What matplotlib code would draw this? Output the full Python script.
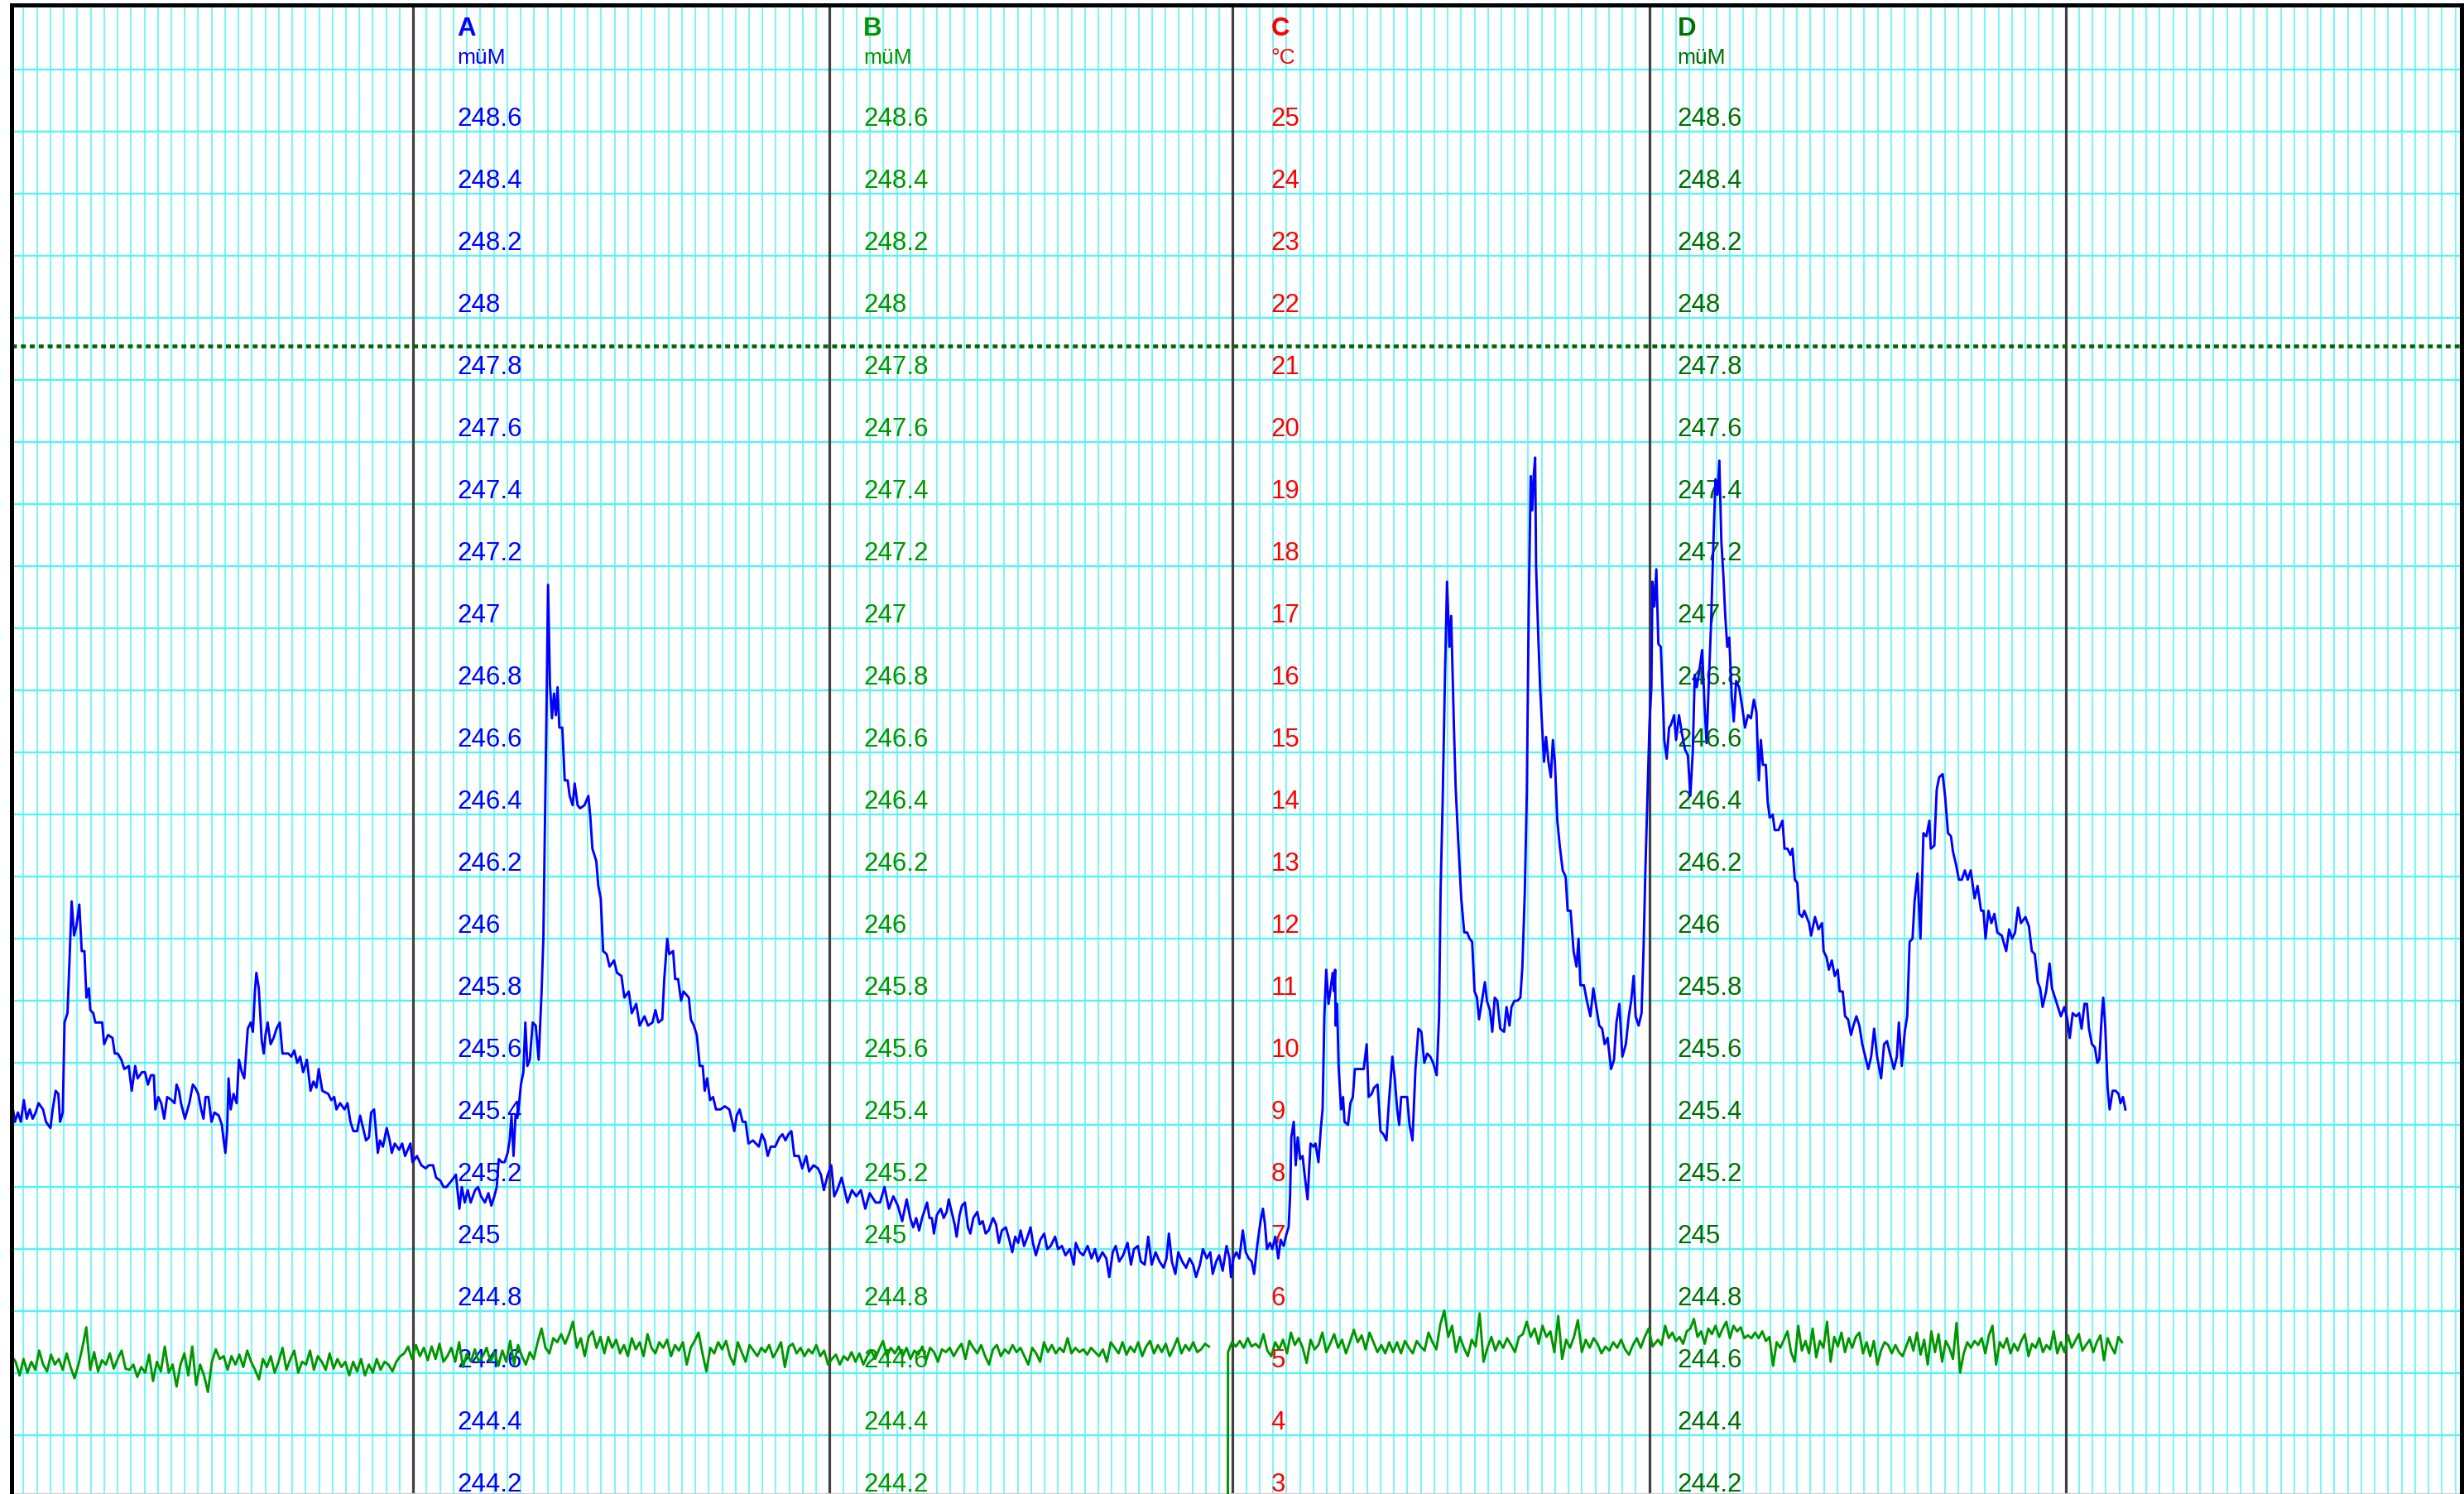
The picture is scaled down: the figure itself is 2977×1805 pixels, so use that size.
import numpy as np
import matplotlib
matplotlib.use("Agg")
import matplotlib.pyplot as plt
import matplotlib.transforms as mtransforms

plt.rcParams['font.family'] = ['Liberation Sans', 'DejaVu Sans']

# time axis in days, month boundaries
month_days = [30, 61, 91, 122, 153]
x_range = (0.11, 182.46)
y_range = (244.211, 249.008)

# scale labels (A, B, D share the level scale, C is temperature)
level_ticks = [248.6, 248.4, 248.2, 248.0, 247.8, 247.6, 247.4, 247.2, 247.0, 246.8, 246.6, 246.4,
               246.2, 246.0, 245.8, 245.6, 245.4, 245.2, 245.0, 244.8, 244.6, 244.4, 244.2]
temp_ticks = [25, 24, 23, 22, 21, 20, 19, 18, 17, 16, 15, 14, 13, 12, 11, 10, 9, 8, 7, 6, 5, 4, 3]
scale_names = ['A', 'B', 'C', 'D']
scale_units = ['müM', 'müM', '°C', 'müM']
scale_colors = ['#0000ff', '#009600', '#ff0000', '#006e00']
threshold = 247.91

# series A (blue), level in m
blue_day = [0.14, 0.36, 0.58, 0.80, 1.02, 1.24, 1.46, 1.68, 1.90, 2.12, 2.45, 2.67, 3.00, 3.17, 3.39, 3.59, 3.72, 3.92,
            4.05, 4.27, 4.43, 4.58, 4.76, 4.93, 5.15, 5.33, 5.53, 5.68, 5.86, 5.97, 6.19, 6.34, 6.63, 6.85, 7.00, 7.29,
            7.62, 7.79, 8.01, 8.28, 8.50, 8.83, 9.05, 9.31, 9.49, 9.82, 10.04, 10.26, 10.48, 10.70, 10.81, 11.03, 11.25,
            11.47, 11.69, 12.02, 12.24, 12.39, 12.57, 12.72, 13.01, 13.34, 13.60, 13.78, 14.00, 14.22, 14.39, 14.55,
            14.76, 14.99, 15.21, 15.53, 15.76, 15.87, 16.02, 16.15, 16.26, 16.42, 16.63, 16.86, 17.03, 17.25, 17.43,
            17.69, 17.91, 18.07, 18.22, 18.33, 18.51, 18.73, 18.88, 19.01, 19.17, 19.39, 19.61, 19.83, 20.07, 20.27,
            20.49, 20.71, 20.93, 21.15, 21.37, 21.59, 21.81, 22.09, 22.36, 22.58, 22.80, 22.97, 23.24, 23.68, 23.90,
            24.12, 24.29, 24.56, 24.89, 25.11, 25.33, 25.55, 25.83, 26.05, 26.27, 26.49, 26.71, 26.87, 27.09, 27.37,
            27.53, 27.75, 28.03, 28.25, 28.41, 28.63, 28.96, 29.18, 29.40, 29.79, 29.95, 30.28, 30.61, 30.94, 31.16,
            31.48, 31.71, 32.03, 32.26, 32.48,
            32.85, 33.18, 33.44, 33.62, 33.84, 34.06, 34.28, 34.61, 34.83, 35.05, 35.34, 35.60, 35.82, 36.04, 36.22,
            36.37, 36.59, 36.81, 37.03, 37.18, 37.32, 37.47, 37.62, 37.80, 38.02, 38.20, 38.35, 38.50, 38.68, 38.90,
            39.12, 39.34, 39.56, 39.69, 39.82, 39.91, 40.04, 40.18, 40.33, 40.48, 40.62, 40.75, 40.88, 41.10, 41.28,
            41.50, 41.65, 41.87, 42.02, 42.24, 42.42, 42.75, 43.04, 43.19, 43.34, 43.63, 43.78, 43.96, 44.14, 44.40,
            44.62, 44.95, 45.17, 45.50, 45.72, 46.05, 46.27, 46.60, 46.86, 47.22, 47.48, 47.81, 48.03, 48.25, 48.54,
            48.69, 48.91, 49.06, 49.35, 49.50, 49.72, 49.94, 50.12, 50.52, 50.67, 50.89, 51.11, 51.33, 51.55, 51.70,
            51.88, 52.10, 52.32, 52.54, 52.87, 53.20, 53.53, 53.75, 53.90, 54.08, 54.30, 54.52, 54.74, 54.96, 55.29,
            55.51, 55.73, 55.95, 56.17, 56.39, 56.61, 56.94, 57.27, 57.49, 57.71, 57.93, 58.15, 58.37, 58.70, 58.96,
            59.25, 59.47, 59.80, 60.13, 60.35, 60.57, 60.86, 61.12, 61.34, 61.56, 61.89, 62.11, 62.33, 62.66, 62.99,
            63.32, 63.65, 63.98, 64.42, 64.75, 65.08, 65.41, 65.74, 66.07, 66.40, 66.73,
            67.00, 67.22, 67.44, 67.66, 67.88, 68.10, 68.25, 68.43, 68.61, 68.76, 68.98, 69.27, 69.49, 69.71, 69.86,
            70.08, 70.30, 70.45, 70.67, 70.85, 71.07, 71.29, 71.47, 71.69, 71.99, 72.17, 72.39, 72.61, 72.83, 73.16,
            73.38, 73.60, 73.82, 74.11, 74.37, 74.59, 74.81, 75.03, 75.21, 75.47, 75.73, 75.95, 76.13, 76.35, 76.68,
            76.97, 77.19, 77.45, 77.78, 78.00, 78.29, 78.55, 78.88, 79.17, 79.32, 79.61, 79.87, 80.20, 80.49, 80.75,
            80.97, 81.30, 81.59, 81.81, 82.07, 82.29, 82.55, 82.84, 83.17, 83.43, 83.65, 83.94, 84.16, 84.45, 84.71,
            84.97, 85.26, 85.55, 85.85, 86.07, 86.25, 86.47, 86.73, 86.95, 87.24, 87.53, 87.79, 88.05, 88.27, 88.56,
            88.78, 89.07, 89.33, 89.51, 89.77, 89.99, 90.25, 90.54, 90.76, 90.87, 91.05, 91.27, 91.49, 91.75, 91.97,
            92.19, 92.41, 92.59, 92.85, 93.07, 93.25, 93.40, 93.55, 93.77, 93.95, 94.17, 94.39, 94.57, 94.79, 95.01,
            95.16, 95.27,
            95.36, 95.54, 95.69, 95.84, 96.02, 96.20, 96.35, 96.57, 96.79, 97.01, 97.16, 97.38, 97.56, 97.69, 97.82,
            97.96, 98.13, 98.29, 98.44, 98.55, 98.62, 98.66, 98.77, 98.88, 99.06, 99.21, 99.32, 99.58, 99.76, 99.94,
            100.09, 100.31, 100.53, 100.75, 100.97, 101.12, 101.34, 101.52, 101.78, 102.00, 102.22, 102.44, 102.62,
            102.88, 103.06, 103.24, 103.39, 103.54, 103.76, 103.98, 104.16, 104.38, 104.60, 104.82, 105.04, 105.26,
            105.48, 105.70, 105.92, 106.18, 106.36, 106.47, 106.62, 106.80, 106.95, 107.13, 107.26, 107.46, 107.59,
            107.79, 108.01, 108.23, 108.45, 108.63, 108.82, 109.00, 109.18, 109.33, 109.55, 109.77, 109.92, 110.14,
            110.32, 110.50, 110.69, 110.91, 111.20, 111.38, 111.60, 111.75, 111.97, 112.19, 112.41, 112.56, 112.74,
            112.89, 113.03, 113.18, 113.29, 113.40, 113.51, 113.58, 113.73, 113.88, 114.02, 114.17, 114.32, 114.50,
            114.68, 114.83, 114.98, 115.16, 115.34, 115.56, 115.78, 115.93, 116.15, 116.37, 116.59, 116.74, 116.88,
            117.14, 117.36, 117.62, 117.84, 118.06, 118.28, 118.50, 118.68, 118.90, 119.16, 119.38, 119.56, 119.78,
            120.00, 120.26, 120.48, 120.66, 120.84, 120.99, 121.21, 121.43, 121.58, 121.72, 121.87, 122.02, 122.16,
            122.24, 122.38, 122.53, 122.68, 122.86, 123.04, 123.12, 123.30, 123.48, 123.63, 123.85, 124.00, 124.22,
            124.44, 124.66, 124.88, 125.06, 125.24, 125.39, 125.54, 125.72, 125.94, 126.12, 126.27, 126.42, 126.60,
            126.78, 126.93, 127.08, 127.22, 127.37, 127.52, 127.66, 127.81, 127.96, 128.14, 128.29, 128.47, 128.69,
            128.91, 129.13, 129.35, 129.57, 129.79,
            129.98, 130.16, 130.31, 130.46, 130.68, 130.82, 130.97, 131.19, 131.34, 131.63, 131.92, 132.07, 132.29,
            132.51, 132.66, 132.84, 133.02, 133.17, 133.39, 133.54, 133.72, 133.90, 134.05, 134.34, 134.60, 134.86,
            134.98, 135.20, 135.37, 135.59, 135.81, 136.03, 136.18, 136.40, 136.58, 136.80, 137.02, 137.20, 137.42,
            137.64, 137.86, 138.08, 138.30, 138.52, 138.74, 138.96, 139.26, 139.48, 139.70, 139.92, 140.21, 140.43,
            140.58, 140.80, 141.02, 141.20, 141.38, 141.60, 141.75, 141.97, 142.19, 142.41, 142.63, 142.85, 142.96,
            143.22, 143.40, 143.58, 143.84, 144.02, 144.24, 144.46, 144.61, 144.83, 145.05, 145.27, 145.49, 145.71,
            145.93, 146.22, 146.44, 146.70, 146.88, 147.03, 147.25, 147.47, 147.69, 147.91, 148.24, 148.57, 148.79,
            149.01, 149.23, 149.45, 149.67, 150.00, 150.26, 150.48, 150.70, 150.92, 151.10, 151.28, 151.54, 151.80,
            151.98, 152.20, 152.42, 152.64, 152.90, 153.08, 153.30, 153.52, 153.78, 154.00, 154.18, 154.40, 154.58,
            154.73, 154.95, 155.17, 155.35, 155.50, 155.68, 155.79, 155.94, 156.12, 156.27, 156.49, 156.71, 156.93,
            157.08, 157.26, 157.44]
blue_val = [245.47, 245.41, 245.44, 245.41, 245.48, 245.42, 245.45, 245.42, 245.44, 245.47, 245.45, 245.41, 245.39,
            245.45, 245.51, 245.50, 245.41, 245.44, 245.73, 245.76, 245.94, 246.12, 246.01, 246.04, 246.11, 245.96,
            245.96, 245.81, 245.84, 245.77, 245.76, 245.73, 245.73, 245.73, 245.66, 245.69, 245.68, 245.63, 245.63,
            245.61, 245.58, 245.59, 245.51, 245.59, 245.55, 245.57, 245.57, 245.53, 245.56, 245.56, 245.45, 245.49,
            245.47, 245.42, 245.49, 245.48, 245.47, 245.53, 245.51, 245.47, 245.42, 245.47, 245.53, 245.52, 245.50,
            245.45, 245.42, 245.49, 245.49, 245.41, 245.44, 245.43, 245.40, 245.36, 245.31, 245.38, 245.55, 245.45,
            245.50, 245.47, 245.61, 245.57, 245.55, 245.71, 245.73, 245.70, 245.83, 245.89, 245.84, 245.67, 245.63,
            245.69, 245.73, 245.66, 245.68, 245.71, 245.73, 245.63, 245.63, 245.63, 245.62, 245.64, 245.60, 245.62,
            245.57, 245.61, 245.51, 245.54, 245.52, 245.58, 245.51, 245.50, 245.48, 245.49, 245.45, 245.47, 245.45,
            245.47, 245.41, 245.38, 245.38, 245.43, 245.39, 245.35, 245.36, 245.44, 245.45, 245.31, 245.35, 245.33,
            245.39, 245.35, 245.31, 245.34, 245.32, 245.34, 245.30, 245.34, 245.28, 245.30, 245.27, 245.26, 245.27,
            245.27, 245.23, 245.22, 245.20, 245.20,
            245.22, 245.24, 245.13, 245.20, 245.15, 245.19, 245.15, 245.19, 245.20, 245.17, 245.15, 245.18, 245.14,
            245.17, 245.20, 245.29, 245.28, 245.28, 245.31, 245.35, 245.43, 245.30, 245.43, 245.43, 245.53, 245.57,
            245.73, 245.59, 245.61, 245.73, 245.72, 245.61, 245.83, 246.00, 246.40, 246.69, 247.14, 246.82, 246.71,
            246.79, 246.72, 246.81, 246.68, 246.68, 246.51, 246.51, 246.46, 246.43, 246.50, 246.43, 246.42, 246.43,
            246.46, 246.39, 246.29, 246.25, 246.17, 246.13, 245.96, 245.95, 245.91, 245.93, 245.89, 245.88, 245.81,
            245.83, 245.76, 245.79, 245.72, 245.75, 245.72, 245.73, 245.77, 245.73, 245.74, 245.87, 246.00, 245.95,
            245.96, 245.87, 245.87, 245.80, 245.83, 245.81, 245.74, 245.72, 245.69, 245.59, 245.59, 245.51, 245.55,
            245.48, 245.49, 245.45, 245.45, 245.46, 245.45, 245.41, 245.38, 245.43, 245.45, 245.41, 245.41, 245.34,
            245.35, 245.34, 245.33, 245.37, 245.35, 245.30, 245.33, 245.33, 245.36, 245.37, 245.35, 245.37, 245.38,
            245.30, 245.30, 245.26, 245.30, 245.25, 245.27, 245.26, 245.24, 245.19, 245.24, 245.27, 245.17, 245.19,
            245.23, 245.19, 245.15, 245.19, 245.17, 245.19, 245.13, 245.18, 245.15, 245.15, 245.20, 245.13, 245.17,
            245.14, 245.09, 245.16,
            245.10, 245.07, 245.10, 245.06, 245.10, 245.13, 245.15, 245.10, 245.10, 245.05, 245.11, 245.13, 245.10,
            245.12, 245.16, 245.12, 245.08, 245.04, 245.11, 245.14, 245.15, 245.07, 245.05, 245.10, 245.12, 245.08,
            245.09, 245.05, 245.06, 245.10, 245.08, 245.02, 245.06, 245.07, 245.03, 244.99, 245.04, 245.02, 245.06,
            245.01, 245.04, 245.07, 245.02, 244.98, 245.03, 245.05, 245.00, 245.01, 245.04, 245.00, 245.01, 244.98,
            245.00, 244.95, 245.02, 244.99, 244.98, 245.01, 244.97, 245.00, 244.96, 244.99, 244.97, 244.91, 244.99,
            245.01, 244.96, 244.98, 245.02, 244.95, 245.00, 245.01, 244.96, 244.95, 245.04, 244.95, 244.99, 244.96,
            244.94, 244.97, 245.05, 244.96, 244.92, 244.99, 244.96, 244.94, 244.97, 244.95, 244.91, 244.95, 245.00,
            244.97, 244.99, 244.92, 244.96, 244.98, 244.93, 245.01, 244.97, 244.91, 244.97, 244.99, 244.97, 245.06,
            244.99, 244.97, 244.96, 244.92, 245.02, 245.09, 245.13, 245.08, 245.00, 245.02, 245.00, 245.04, 244.97,
            245.03, 245.01, 245.05, 245.07, 245.17,
            245.36, 245.41, 245.27, 245.36, 245.29, 245.30, 245.24, 245.16, 245.34, 245.33, 245.34, 245.28, 245.39,
            245.45, 245.75, 245.90, 245.79, 245.84, 245.89, 245.83, 245.90, 245.72, 245.79, 245.59, 245.45, 245.49,
            245.41, 245.40, 245.47, 245.49, 245.58, 245.58, 245.58, 245.58, 245.66, 245.49, 245.50, 245.52, 245.53,
            245.38, 245.37, 245.35, 245.47, 245.62, 245.55, 245.45, 245.40, 245.49, 245.49, 245.49, 245.40, 245.35,
            245.58, 245.71, 245.70, 245.60, 245.63, 245.62, 245.60, 245.56, 245.75, 246.15, 246.43, 246.85, 247.15,
            246.94, 247.04, 246.69, 246.49, 246.31, 246.13, 246.02, 246.02, 246.00, 245.99, 245.83, 245.81, 245.74,
            245.80, 245.86, 245.80, 245.77, 245.70, 245.81, 245.80, 245.71, 245.70, 245.78, 245.72, 245.78, 245.80,
            245.80, 245.81, 245.91, 246.15, 246.47, 247.06, 247.49, 247.38, 247.49, 247.55, 247.20, 246.99, 246.81,
            246.69, 246.57, 246.65, 246.57, 246.52, 246.64, 246.57, 246.38, 246.30, 246.22, 246.20, 246.09, 246.09,
            245.96, 245.91, 246.00, 245.85, 245.85, 245.80, 245.75, 245.84, 245.78, 245.72, 245.71, 245.66, 245.68,
            245.58, 245.61, 245.73, 245.79, 245.62, 245.66, 245.75, 245.80, 245.88, 245.75, 245.72, 245.76, 245.97,
            246.23, 246.46, 246.69, 246.81, 247.15, 247.07, 247.19, 246.95, 246.94, 246.75, 246.64, 246.58, 246.68,
            246.69, 246.72, 246.64, 246.72, 246.66, 246.61, 246.59, 246.46, 246.60, 246.85, 246.81, 246.86, 246.93,
            246.75, 246.63, 246.81, 247.01, 247.28, 247.48, 247.43, 247.54, 247.28, 247.17, 247.04, 246.94, 246.97,
            246.78, 246.70, 246.83, 246.81, 246.75, 246.68, 246.72, 246.71, 246.77,
            246.73, 246.51, 246.64, 246.56, 246.56, 246.44, 246.39, 246.40, 246.35, 246.35, 246.38, 246.29, 246.29,
            246.27, 246.29, 246.19, 246.18, 246.08, 246.07, 246.09, 246.07, 246.05, 246.01, 246.07, 246.03, 246.05,
            245.96, 245.94, 245.90, 245.93, 245.88, 245.90, 245.83, 245.83, 245.75, 245.74, 245.69, 245.72, 245.75,
            245.72, 245.66, 245.62, 245.58, 245.62, 245.71, 245.62, 245.55, 245.66, 245.67, 245.63, 245.58, 245.62,
            245.73, 245.59, 245.70, 245.75, 245.99, 246.00, 246.12, 246.21, 246.00, 246.34, 246.33, 246.38, 246.29,
            246.30, 246.48, 246.52, 246.53, 246.46, 246.34, 246.33, 246.28, 246.24, 246.19, 246.19, 246.22, 246.19,
            246.22, 246.13, 246.17, 246.09, 246.09, 246.00, 246.09, 246.05, 246.08, 246.02, 246.01, 245.96, 246.03,
            246.00, 246.02, 246.10, 246.05, 246.07, 246.04, 245.96, 245.95, 245.86, 245.84, 245.78, 245.83, 245.92,
            245.84, 245.81, 245.78, 245.75, 245.78, 245.75, 245.68, 245.76, 245.75, 245.76, 245.71, 245.79, 245.79,
            245.71, 245.66, 245.65, 245.60, 245.61, 245.75, 245.81, 245.72, 245.52, 245.45, 245.51, 245.51, 245.50,
            245.47, 245.49, 245.45]

# series B (green), level in m, read in four stretches with a data gap and a dropout
green_a_span = (0.12, 60.88)
green_a = [244.655, 244.637, 244.593, 244.646, 244.602, 244.637, 244.611, 244.673, 244.628, 244.606, 244.660, 244.628,
           244.646, 244.611, 244.664, 244.620, 244.584, 244.628, 244.682, 244.748, 244.611, 244.668, 244.606, 244.642,
           244.628, 244.664, 244.615, 244.646, 244.673, 244.615, 244.611, 244.628, 244.588, 244.620, 244.602, 244.660,
           244.575, 244.637, 244.606, 244.686, 244.602, 244.628, 244.557, 244.628, 244.664, 244.593, 244.686, 244.562,
           244.628, 244.593, 244.540, 244.637, 244.677, 244.646, 244.655, 244.611, 244.655, 244.628, 244.660, 244.620,
           244.673, 244.637, 244.611, 244.580, 244.646, 244.620, 244.655, 244.602, 244.637, 244.682, 244.611, 244.646,
           244.673, 244.602, 244.637, 244.628, 244.673, 244.611, 244.655, 244.637, 244.611, 244.664, 244.615, 244.646,
           244.620, 244.637, 244.593, 244.637, 244.606, 244.646, 244.593, 244.628, 244.602, 244.646, 244.611, 244.637,
           244.628, 244.606, 244.637, 244.655, 244.664, 244.686, 244.646, 244.691, 244.655, 244.682, 244.642, 244.686,
           244.646, 244.695, 244.637, 244.655, 244.682, 244.637, 244.700, 244.620, 244.664, 244.637, 244.677, 244.637,
           244.655, 244.682, 244.637, 244.668, 244.624, 244.673, 244.637, 244.704, 244.628, 244.691, 244.655, 244.628,
           244.668, 244.646, 244.700, 244.744, 244.682, 244.664, 244.713, 244.700, 244.726, 244.695, 244.726, 244.766,
           244.682, 244.713, 244.655, 244.717, 244.735, 244.682, 244.717, 244.664, 244.717, 244.682, 244.708, 244.664,
           244.691, 244.655, 244.713, 244.677, 244.700, 244.655, 244.726, 244.682, 244.664, 244.700, 244.682, 244.708,
           244.655, 244.691, 244.673, 244.700, 244.628, 244.682, 244.704, 244.731, 244.664, 244.606, 244.682, 244.664,
           244.700, 244.677, 244.704, 244.655, 244.628, 244.700, 244.668, 244.637, 244.691, 244.673, 244.655, 244.682,
           244.668, 244.691, 244.651, 244.673, 244.700, 244.620, 244.686, 244.695, 244.664, 244.682, 244.655, 244.677,
           244.664, 244.691, 244.655, 244.673, 244.628]
green_b_span = (61.17, 89.23)
green_b = [244.646, 244.660, 244.628, 244.655, 244.642, 244.668, 244.637, 244.664, 244.628, 244.655, 244.673, 244.646,
           244.677, 244.704, 244.655, 244.682, 244.664, 244.686, 244.655, 244.682, 244.646, 244.673, 244.660, 244.686,
           244.642, 244.682, 244.668, 244.637, 244.677, 244.668, 244.682, 244.655, 244.677, 244.695, 244.646, 244.704,
           244.682, 244.664, 244.691, 244.655, 244.628, 244.677, 244.691, 244.655, 244.677, 244.664, 244.691, 244.668,
           244.682, 244.655, 244.628, 244.682, 244.664, 244.637, 244.700, 244.668, 244.691, 244.664, 244.682, 244.668,
           244.713, 244.664, 244.682, 244.668, 244.677, 244.660, 244.682, 244.668, 244.655, 244.677, 244.637, 244.700,
           244.682, 244.664, 244.700, 244.660, 244.686, 244.668, 244.700, 244.655, 244.686, 244.704, 244.664, 244.691,
           244.668, 244.695, 244.655, 244.682, 244.713, 244.664, 244.691, 244.673, 244.700, 244.668, 244.677, 244.695,
           244.686]
green_drop = (90.53, 240.0)
green_c_span = (90.65, 122.25)
green_c = [244.668, 244.700, 244.686, 244.704, 244.682, 244.713, 244.686, 244.695, 244.682, 244.726, 244.673, 244.655,
           244.700, 244.677, 244.708, 244.664, 244.731, 244.691, 244.713, 244.682, 244.633, 244.708, 244.677, 244.691,
           244.731, 244.668, 244.695, 244.726, 244.682, 244.708, 244.664, 244.700, 244.740, 244.700, 244.722, 244.677,
           244.731, 244.700, 244.668, 244.691, 244.664, 244.700, 244.668, 244.700, 244.664, 244.704, 244.682, 244.664,
           244.704, 244.686, 244.673, 244.731, 244.700, 244.677, 244.757, 244.802, 244.717, 244.753, 244.668, 244.717,
           244.682, 244.655, 244.708, 244.686, 244.793, 244.637, 244.682, 244.717, 244.673, 244.704, 244.682, 244.713,
           244.691, 244.668, 244.717, 244.726, 244.766, 244.717, 244.744, 244.695, 244.753, 244.717, 244.735, 244.668,
           244.784, 244.646, 244.708, 244.682, 244.717, 244.771, 244.668, 244.708, 244.682, 244.713, 244.695, 244.664,
           244.686, 244.673, 244.700, 244.682, 244.708, 244.677, 244.660, 244.691, 244.713, 244.682, 244.717, 244.744,
           244.686]
green_d_span = (122.65, 157.19)
green_d = [244.708, 244.691, 244.753, 244.713, 244.731, 244.704, 244.717, 244.695, 244.735, 244.744, 244.775, 244.717,
           244.735, 244.695, 244.744, 244.726, 244.753, 244.717, 244.744, 244.766, 244.713, 244.753, 244.735, 244.748,
           244.713, 244.722, 244.713, 244.731, 244.713, 244.735, 244.704, 244.717, 244.624, 244.700, 244.682, 244.708,
           244.735, 244.668, 244.637, 244.753, 244.673, 244.704, 244.664, 244.744, 244.651, 244.704, 244.682, 244.766,
           244.637, 244.717, 244.686, 244.731, 244.668, 244.713, 244.682, 244.717, 244.731, 244.664, 244.700, 244.655,
           244.704, 244.628, 244.673, 244.700, 244.691, 244.664, 244.691, 244.668, 244.655, 244.686, 244.717, 244.673,
           244.731, 244.660, 244.708, 244.628, 244.735, 244.668, 244.726, 244.637, 244.704, 244.682, 244.646, 244.762,
           244.602, 244.664, 244.700, 244.682, 244.704, 244.691, 244.713, 244.664, 244.722, 244.753, 244.628, 244.700,
           244.682, 244.713, 244.664, 244.695, 244.673, 244.704, 244.726, 244.655, 244.695, 244.682, 244.713, 244.668,
           244.691, 244.677, 244.735, 244.664, 244.700, 244.668, 244.722, 244.682, 244.704, 244.726, 244.673, 244.691,
           244.708, 244.668, 244.700, 244.722, 244.642, 244.713, 244.686, 244.664, 244.717, 244.700]

W, H = 2977, 1805
fig = plt.figure(figsize=(W / 100, H / 100), dpi=100)
ax = fig.add_axes([14 / W, 0, 2960 / W, 1799 / H])
ax.set_xlim(*x_range)
ax.set_ylim(*y_range)
ax.set_xticks([])
ax.set_yticks([])

cyan = '#4ff5f5'
# daily grid and level grid
for d in range(1, 183):
    if d not in month_days:
        ax.axvline(d, color=cyan, lw=1.1, zorder=1)
for v in np.arange(244.4, 248.81, 0.2):
    ax.axhline(v, color=cyan, lw=1.6, zorder=1)
for d in month_days:
    ax.axvline(d, color='#404040', lw=2.3, zorder=1.5)

ax.axhline(threshold, color='#006400', lw=3.3, linestyle=(0, (1.3, 1.05)), zorder=2)

# scale columns drawn inside the plot
col_x = [0.1818, 0.3476, 0.5141, 0.6799]
trans = mtransforms.blended_transform_factory(ax.transAxes, ax.transData)
tick_tr = mtransforms.offset_copy(trans, fig=fig, y=5.0, units='points')
name_tr = mtransforms.offset_copy(trans, fig=fig, y=29.3, units='points')
for i in range(4):
    col = scale_colors[i]
    ax.text(col_x[i], 248.8, scale_names[i], transform=name_tr, color=col, fontsize=22.5,
            fontweight='bold', ha='left', va='baseline', zorder=3)
    ax.text(col_x[i], 248.8, scale_units[i], transform=tick_tr, color=col, fontsize=19,
            ha='left', va='baseline', zorder=3)
    for k, v in enumerate(level_ticks):
        lab = str(temp_ticks[k]) if scale_names[i] == 'C' else '%g' % v
        ax.text(col_x[i], v, lab, transform=tick_tr, color=col, fontsize=22.5,
                ha='left', va='baseline', zorder=3)

# series
green_day_1 = list(np.linspace(*green_a_span, len(green_a))) + list(np.linspace(*green_b_span, len(green_b)))
green_val_1 = green_a + green_b
green_day_2 = [green_drop[0]] + list(np.linspace(*green_c_span, len(green_c))) + \
    list(np.linspace(*green_d_span, len(green_d)))
green_val_2 = [green_drop[1]] + green_c + green_d
ax.plot(green_day_1, green_val_1, color='#009600', lw=2.1, zorder=4)
ax.plot(green_day_2, green_val_2, color='#009600', lw=2.1, zorder=4)
ax.plot(blue_day, blue_val, color='#0000ff', lw=2.1, zorder=4)

for side in ['top', 'left', 'right']:
    ax.spines[side].set_color('black')
    ax.spines[side].set_linewidth(3.6)
    ax.spines[side].set_zorder(5)
ax.spines['bottom'].set_color('#cccccc')
ax.spines['bottom'].set_linewidth(1.5)

fig.savefig('out.png', dpi=100)
